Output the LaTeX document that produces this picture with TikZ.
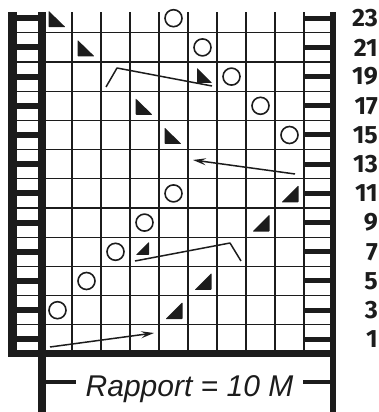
\documentclass[tikz,border=0pt]{standalone}
\usepackage{fontspec}
\setmainfont{Liberation Sans}
\newfontfamily\numfont{Fira Sans}
\usetikzlibrary{arrows.meta, positioning}
\definecolor{ink}{HTML}{1C1C1C}

\begin{document}
\begin{tikzpicture}[
    x=1pt, y=1pt,
    gridline/.style={draw=ink, line width=1.3pt},
    edgebar/.style={fill=ink},
    yarnover/.style={circle, draw=ink, line width=1.6pt, minimum size=17pt, inner sep=0pt},
    rowlabel/.style={anchor=east, text=ink, inner sep=0pt, font=\numfont\bfseries\fontsize{25}{25}\selectfont},
    stitchline/.style={draw=ink, line width=1.5pt, line join=round},
    arrow/.style={stitchline, -{Stealth[length=13pt, width=7pt, inset=5pt]}}
]
\useasboundingbox (0,0) rectangle (379,412);

% Grid (10 columns of 29pt, 12 rows of 29.2pt)
\foreach \c in {1,...,9}
  \draw[gridline] ({43+29*\c},58) -- ({43+29*\c},400);
\foreach \r in {1,...,11}
  \draw[gridline] (17,{58+29.2*\r}) -- (330,{58+29.2*\r});

% Edge stitches
\fill[edgebar] (8,55) rectangle (17,400);
\fill[edgebar] (38,0) rectangle (46,400);
\fill[edgebar] (330,0) rectangle (336,400);
\foreach \r in {1,...,12} {
  \fill[edgebar] (17,{58+29.2*(\r-0.5)-3}) rectangle (38,{58+29.2*(\r-0.5)+3});
  \fill[edgebar] (304,{58+29.2*(\r-0.5)-2.5}) rectangle (330,{58+29.2*(\r-0.5)+2.5});
}
\fill[edgebar] (8,54.5) rectangle (336,61.5);

% Row numbers
\foreach \r in {1,...,12} {
  \pgfmathtruncatemacro{\n}{2*\r-1}
  \node[rowlabel] (row\n) at (378,{58+29.2*(\r-0.5)}) {\n};
}

% Yarn overs
\foreach \c/\r in {4/12,5/11,6/10,7/9,8/8,4/6,3/5,2/4,1/3,0/2}
  \node[yarnover] (yo\c-\r) at ({43+29*(\c+0.5)},{58+29.2*(\r-0.5)}) {};

% Decreases
\foreach \c/\r in {0/12,1/11,3/9,4/8}
  \fill[ink, rounded corners=0.8pt] ({43+29*(\c+0.5)-9},{58+29.2*(\r-0.5)+7.5})
    -- ++(0,-16.5) -- ++(17,0) -- cycle;
\foreach \c/\r in {8/6,7/5,5/3,4/2}
  \fill[ink, rounded corners=0.8pt] ({43+29*(\c+0.5)-8},{58+29.2*(\r-0.5)-9})
    -- ++(17,0) -- ++(0,17) -- cycle;
\fill[ink, rounded corners=0.6pt] (197,344) -- (197,329) -- (212,329) -- cycle;
\fill[ink, rounded corners=0.6pt] (136,157) -- (149,157) -- (149,170) -- cycle;

% Crossing lines
\coordinate (r19s) at (106,325);
\coordinate (r19k) at (117,344);
\coordinate (r19e) at (212,326);
\coordinate (r7s) at (135,151);
\coordinate (r7k) at (230,169);
\coordinate (r7e) at (241,151);
\draw[stitchline] (r19s) -- (r19k) -- (r19e);
\draw[stitchline] (r7s) -- (r7k) -- (r7e);

% Arrows
\coordinate (r13s) at (295,238);
\coordinate (r13e) at (193,252);
\coordinate (r1s) at (50,65);
\coordinate (r1e) at (154,79);
\draw[arrow] (r13s) -- (r13e);
\draw[arrow] (r1s) -- (r1e);

% Rapport
\node[text=ink, inner xsep=9pt, inner ysep=0pt, anchor=base,
      font=\itshape\fontsize{30}{30}\selectfont] (rapport) at (189.5,15) {Rapport = 10 M};
\coordinate (tickL) at (46,30);
\coordinate (tickR) at (330,30);
\draw[ink, line width=4pt] (tickL) -- (tickL -| rapport.west);
\draw[ink, line width=4pt] (tickR) -- (tickR -| rapport.east);

\end{tikzpicture}
\end{document}
